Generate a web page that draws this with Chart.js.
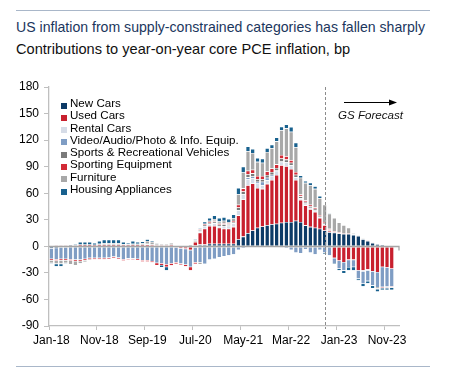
<!DOCTYPE html>
<html>
<head>
<meta charset="utf-8">
<script src="https://cdn.jsdelivr.net/npm/chart.js@4.4.0/dist/chart.umd.min.js"></script>
<style>
body{margin:0;background:#fff;font-family:"Liberation Sans",Arial,sans-serif;}
#wrap{position:relative;width:473px;height:371px;overflow:hidden;}
#chart{position:absolute;left:0;top:0;}
.rule{position:absolute;left:16px;width:414px;height:0;border-top:1.5px solid #a9b7c9;}
.title{position:absolute;left:16px;line-height:16px;white-space:nowrap;}
#legend{position:absolute;left:61px;top:98px;font-size:11.6px;color:#000;}
.item{position:relative;height:12.3px;line-height:12.3px;white-space:nowrap;}
.item span{position:absolute;left:0;top:4.5px;width:6px;height:6px;}
.item b{font-weight:normal;position:absolute;left:9px;top:-1px;}
#fc{position:absolute;left:338px;top:107.5px;font-size:11.6px;line-height:14px;font-style:italic;color:#111;}
</style>
</head>
<body>
<div id="wrap">
  <div class="rule" style="top:10px"></div>
  <div class="title" style="top:19px;font-size:14.1px;color:#1b365d">US inflation from supply-constrained categories has fallen sharply</div>
  <div class="title" style="top:40.5px;font-size:14.6px;color:#111">Contributions to year-on-year core PCE inflation, bp</div>
  <canvas id="chart" width="473" height="371"></canvas>
  <div id="legend"></div>
  <div id="fc">GS Forecast</div>
  <div class="rule" style="top:366px"></div>
</div>
<script>
var monthNames = ['Jan','Feb','Mar','Apr','May','Jun','Jul','Aug','Sep','Oct','Nov','Dec'];
var categories = [];
for (var y = 18; y <= 23; y++) {
  monthNames.forEach(function(m){ categories.push(m + '-' + y); });
}
categories.push('Jan-24');

var tickLabels = ['Jan-18','Nov-18','Sep-19','Jul-20','May-21','Mar-22','Jan-23','Nov-23'];
var forecastStart = 'Oct-22';

var newCars = [-2,-1.5,-1,-1,-0.5,0.3,0.5,0.5,0.5,0.5,0.5,0.5,
  0.5,0.5,0.5,0.5,0.5,0.5,0.5,0.5,0.8,0.8,0.8,0.8,
  0.8,0.8,0.3,0,0.2,0.5,1,2,2,3,3,3,
  3,3,3,8,11,15,18,21,22.5,24,25,25.6,
  26.7,27.5,27.5,29,27.5,23.7,22,21,20,18,16,15.4,
  14.5,14,14,13,11.7,8,6,4,2.5,1.8,0.9,0.4];
var usedCars = [0,0.5,0.5,0.5,0.5,0.5,1,1,1,0.8,1,1,
  1,1,1,0.8,0.8,1,1,1,1.5,1,0.5,0.5,
  0.5,0.8,-1,-2,-2.5,-4,4,13.5,18,20,20,18,
  17,17,19,27,42,54,53,45,42.5,46.6,50,55,
  65,63,60,46,25,22.6,20,18,12,6,1.5,-13,
  -16,-17.7,-15,-15,-27,-27,-26,-28,-29,-23,-23.5,-25];
var rentalCars = [0,0,0,0,0,0,0,0,0,0,0,0,
  0,0,0,0,0,0,0,0,0,0,0,0,
  0,0,0,0,0,0,-1,2,3,2,3,2,
  3,3.5,4,6,6,7,6,5,4,4,4,4,
  4,4.5,4,3,2,2,1.5,1.5,1,1,0.5,0,
  0,0,0,0,0,-1,-1,0,0,0,0,0];
var videoAudio = [-12,-13,-13,-13,-14,-15,-15,-14,-13,-13,-13,-13,
  -12.5,-11.5,-12.5,-14.5,-13.5,-13.5,-14,-15.5,-15.5,-16.5,-18.5,-19,
  -20,-19,-17,-17.5,-18,-19,-17,-18,-19.6,-15,-14,-12,
  -11,-10,-9,-4,-2,2,2,2,4,3,2,1,
  -1,-2,-4,-7,-7.5,-3,-7,-9,-4,-7,-10,-6,
  -9,-9.4,-8.3,-8,-9.4,-14,-12,-16,-17,-22.6,-22,-20];
var sportsRec = [0,0.3,0.3,0.3,0.5,0.5,0.5,0.5,0.5,0.5,0.5,0.5,
  0.5,0.5,0.5,0.5,0.4,0.5,0.5,0.5,0.7,0.5,0.5,0.4,
  0.4,0.4,0.2,-0.3,0.3,0.5,0.5,1.2,1.5,1.5,2,1.5,
  2,1.5,1.5,3,3,3.5,3.5,3,3,3,3,3,
  3.5,3,3,3,2,2,2,2,1.5,1.5,1,0.6,
  0.5,0.5,0.5,0.3,0.2,0.2,0.3,0.3,-1,0.1,0,0];
var sportingEquip = [-1.5,-1.5,-1.5,-1.5,-1.5,-1.5,-1.5,-1.5,-1.5,-1.5,-1.5,-1.5,
  -1.5,-1.3,-1.5,-1.5,-1.5,-1.5,-1.5,-1.5,-1.5,-1.5,-2.5,-2,
  -3,-2.5,-1.6,-1.2,-2,-4,-1.6,0.8,1,1,1,1,
  1,1,1,3,3.5,4,4,3.5,3.5,4,4,4,
  4,3.8,3,3,2,1.5,1.5,1.5,1,1,1,1,
  0.8,0.5,0.5,0.3,0.3,0.3,0.4,0.3,0.2,-0.8,-0.8,-0.8];
var furniture = [-3,-3.5,-4,-3,-4,-4.5,-2.5,-2,-1,-0.5,1,1.5,
  1.5,1.5,1.5,0.7,0.8,1,1,1.6,3,2.7,1.7,1.3,
  1.3,2,0,0,0,1,1.5,-2,0,1.5,2,2.5,
  3,1.5,3,12,18,22,19,16,15,22,23,26,
  28,31.5,32,28,19,20,22,21,19,19.5,17,15,
  11.2,9,6,1.4,0.8,0.5,0.3,0.4,-1,-0.6,-0.7,-0.7];
var housingApp = [-1,-3,-3,-1,1,1.2,3,3,3,2.2,3,4,
  4,4,4,2.5,1.5,3,2,2,2,1,0.5,-2.4,
  -4,0,0,0,0,0,1,1,2.5,3,4,4,
  4,3.5,4.5,7,6.5,5.5,4.5,4.5,4.5,4.4,4,4.4,
  4,4.5,5.5,5,2.5,2.2,3,3,2.5,-1.3,1,-1,
  -2,-3,-3.8,-4,-2,-3,-2.6,-3,-3,-2,-2,-2.5];

var seriesNames = ['New Cars','Used Cars','Rental Cars','Video/Audio/Photo & Info. Equip.',
  'Sports & Recreational Vehicles','Sporting Equipment','Furniture','Housing Appliances'];
var seriesData = [newCars, usedCars, rentalCars, videoAudio, sportsRec, sportingEquip, furniture, housingApp];
var seriesColors = ['#0c3a66','#c8202e','#d6dce7','#7f9dc4','#7a7a7a','#d22a36','#a8a8a8','#18618e'];

var legend = document.getElementById('legend');
seriesNames.forEach(function(name, i){
  var row = document.createElement('div');
  row.className = 'item';
  row.innerHTML = '<span style="background:' + seriesColors[i] + '"></span><b></b>';
  row.querySelector('b').textContent = name;
  legend.appendChild(row);
});

var extras = {
  id: 'extras',
  afterDatasetsDraw: function(chart){
    var ctx = chart.ctx, a = chart.chartArea;
    var ys = chart.scales.y, xs = chart.scales.x;
    var y0 = Math.round(ys.getPixelForValue(0)) + 0.5;
    ctx.save();
    ctx.strokeStyle = '#a6a6a6';
    ctx.lineWidth = 1.3;
    ctx.beginPath();
    ctx.moveTo(a.left, y0);
    ctx.lineTo(a.right, y0);
    ctx.lineTo(a.right, y0 + 4);
    ctx.stroke();

    // forecast divider
    var xf = Math.round(xs.getPixelForValue(categories.indexOf(forecastStart))) + 0.5;
    ctx.strokeStyle = '#8c8c8c';
    ctx.lineWidth = 1;
    ctx.setLineDash([3, 2]);
    ctx.beginPath();
    ctx.moveTo(xf, a.top);
    ctx.lineTo(xf, a.bottom + 3);
    ctx.stroke();
    ctx.setLineDash([]);

    ctx.strokeStyle = '#000';
    ctx.fillStyle = '#000';
    ctx.beginPath();
    ctx.moveTo(344, 102.5);
    ctx.lineTo(391, 102.5);
    ctx.stroke();
    ctx.beginPath();
    ctx.moveTo(397, 102.5);
    ctx.lineTo(389, 99.5);
    ctx.lineTo(389, 105.5);
    ctx.closePath();
    ctx.fill();
    ctx.restore();
  }
};

var datasets = seriesData.map(function(d, i){
  return {
    label: seriesNames[i],
    data: d,
    backgroundColor: seriesColors[i],
    borderColor: '#ffffff',
    borderWidth: {top: 0.6, bottom: 0, left: 0, right: 0},
    borderSkipped: false,
    categoryPercentage: 1,
    barPercentage: 0.74
  };
});

new Chart(document.getElementById('chart'), {
  type: 'bar',
  data: { labels: categories, datasets: datasets },
  options: {
    responsive: false,
    animation: false,
    devicePixelRatio: 1,
    layout: { padding: { top: 87, right: 74, left: 0, bottom: 0 } },
    plugins: { legend: { display: false }, tooltip: { enabled: false } },
    scales: {
      x: {
        stacked: true,
        offset: true,
        afterFit: function(s){ s.height = 45; },
        border: { display: true, color: '#bfbfbf', width: 1.3 },
        grid: {
          offset: true,
          drawOnChartArea: false,
          drawTicks: true,
          tickLength: 4,
          color: function(c){ return tickLabels.indexOf(categories[c.index]) >= 0 ? '#bfbfbf' : 'rgba(0,0,0,0)'; }
        },
        ticks: {
          autoSkip: false,
          maxRotation: 0,
          minRotation: 0,
          padding: 3,
          color: '#000',
          font: { family: '"Liberation Sans", Arial, sans-serif', size: 12 },
          callback: function(v, i){ return tickLabels.indexOf(categories[i]) >= 0 ? categories[i] : ''; }
        }
      },
      y: {
        stacked: true,
        min: -90,
        max: 180,
        afterFit: function(s){ s.width = 49; },
        border: { display: true, color: '#bfbfbf', width: 1.3 },
        grid: { drawOnChartArea: false, drawTicks: true, tickLength: 5, color: '#bfbfbf' },
        ticks: {
          stepSize: 30,
          padding: 5,
          color: '#000',
          font: { family: '"Liberation Sans", Arial, sans-serif', size: 12 }
        }
      }
    }
  },
  plugins: [extras]
});
</script>
</body>
</html>
